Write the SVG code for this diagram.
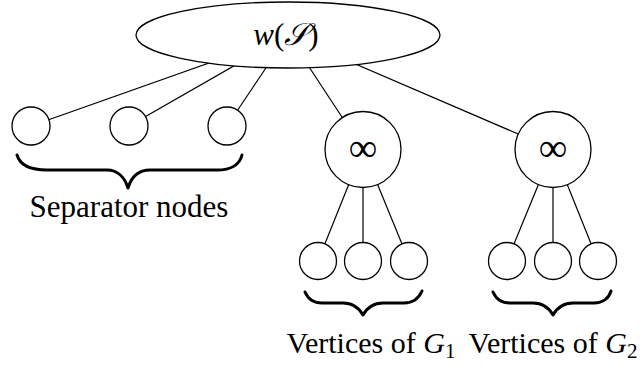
<svg xmlns="http://www.w3.org/2000/svg" width="642" height="367" viewBox="0 0 642 367">
<style>
.n{fill:#fff;stroke:#000;stroke-width:1.3}
.e{stroke:#000;stroke-width:1.2;fill:none}
.b{stroke:#000;stroke-width:3;fill:none;stroke-linecap:round;stroke-linejoin:round}
.t{font-family:"Liberation Serif","Times New Roman","DejaVu Serif",serif;font-size:31px;fill:#000}
.v{font-size:30px}
.inf{font-family:"Liberation Serif","DejaVu Serif",serif;font-size:40px;fill:#000}
</style>
<rect width="642" height="367" fill="#fff"/>
<g id="connectors">
<line class="e" x1="288" y1="35" x2="31" y2="126"/>
<line class="e" x1="288" y1="35" x2="129" y2="126"/>
<line class="e" x1="288" y1="35" x2="227" y2="126"/>
<line class="e" x1="288" y1="35" x2="363" y2="149"/>
<line class="e" x1="288" y1="35" x2="553" y2="149"/>
<line class="e" x1="363" y1="149" x2="318" y2="261"/>
<line class="e" x1="363" y1="149" x2="363" y2="261"/>
<line class="e" x1="363" y1="149" x2="409" y2="261"/>
<line class="e" x1="553" y1="149" x2="507" y2="261"/>
<line class="e" x1="553" y1="149" x2="553" y2="261"/>
<line class="e" x1="553" y1="149" x2="598" y2="261"/>
</g>
<g id="root">
<ellipse class="n" cx="288" cy="35" rx="152" ry="33"/>
<text class="t" x="286" y="45" text-anchor="middle"><tspan font-style="italic">w</tspan>(<tspan font-style="italic">𝒮</tspan>)</text>
</g>
<g id="sep1"><circle class="n" cx="31" cy="126" r="19"/></g>
<g id="sep2"><circle class="n" cx="129" cy="126" r="19"/></g>
<g id="sep3"><circle class="n" cx="227" cy="126" r="19"/></g>
<g id="inf1"><circle class="n" cx="363" cy="149.5" r="38"/><text class="inf" x="363" y="161" text-anchor="middle">∞</text></g>
<g id="inf2"><circle class="n" cx="553" cy="149.5" r="38"/><text class="inf" x="553" y="161" text-anchor="middle">∞</text></g>
<g id="g1a"><circle class="n" cx="318" cy="261" r="18.5"/></g>
<g id="g1b"><circle class="n" cx="363" cy="261" r="18.5"/></g>
<g id="g1c"><circle class="n" cx="409" cy="261" r="18.5"/></g>
<g id="g2a"><circle class="n" cx="507" cy="261" r="18.5"/></g>
<g id="g2b"><circle class="n" cx="553" cy="261" r="18.5"/></g>
<g id="g2c"><circle class="n" cx="598" cy="261" r="18.5"/></g>
<g id="brace-sep">
<path class="b" d="M17,155 C20,165 30,170 47,170 L107,170 C118,170 125,178 128,188 C131,178 138,170 150,170 L217,170 C234,170 240,163 242,155"/>
<text class="t" x="129" y="217" text-anchor="middle">Separator nodes</text>
</g>
<g id="brace-g1">
<path class="b" d="M305,292 C308,299 313,303 322,303 L343,303 C352,303 359,308 363,315 C367,308 374,303 383,303 L404,303 C413,303 419,298 422,291"/>
<text class="t v" x="371" y="353" text-anchor="middle">Vertices of <tspan font-style="italic">G</tspan><tspan font-size="21" dy="5">1</tspan></text>
</g>
<g id="brace-g2">
<path class="b" d="M493,292 C496,299 501,303 510,303 L533,303 C542,303 549,308 553,315 C557,308 564,303 573,303 L594,303 C603,303 609,298 611,291"/>
<text class="t v" x="553" y="353" text-anchor="middle">Vertices of <tspan font-style="italic">G</tspan><tspan font-size="21" dy="5">2</tspan></text>
</g>
</svg>
